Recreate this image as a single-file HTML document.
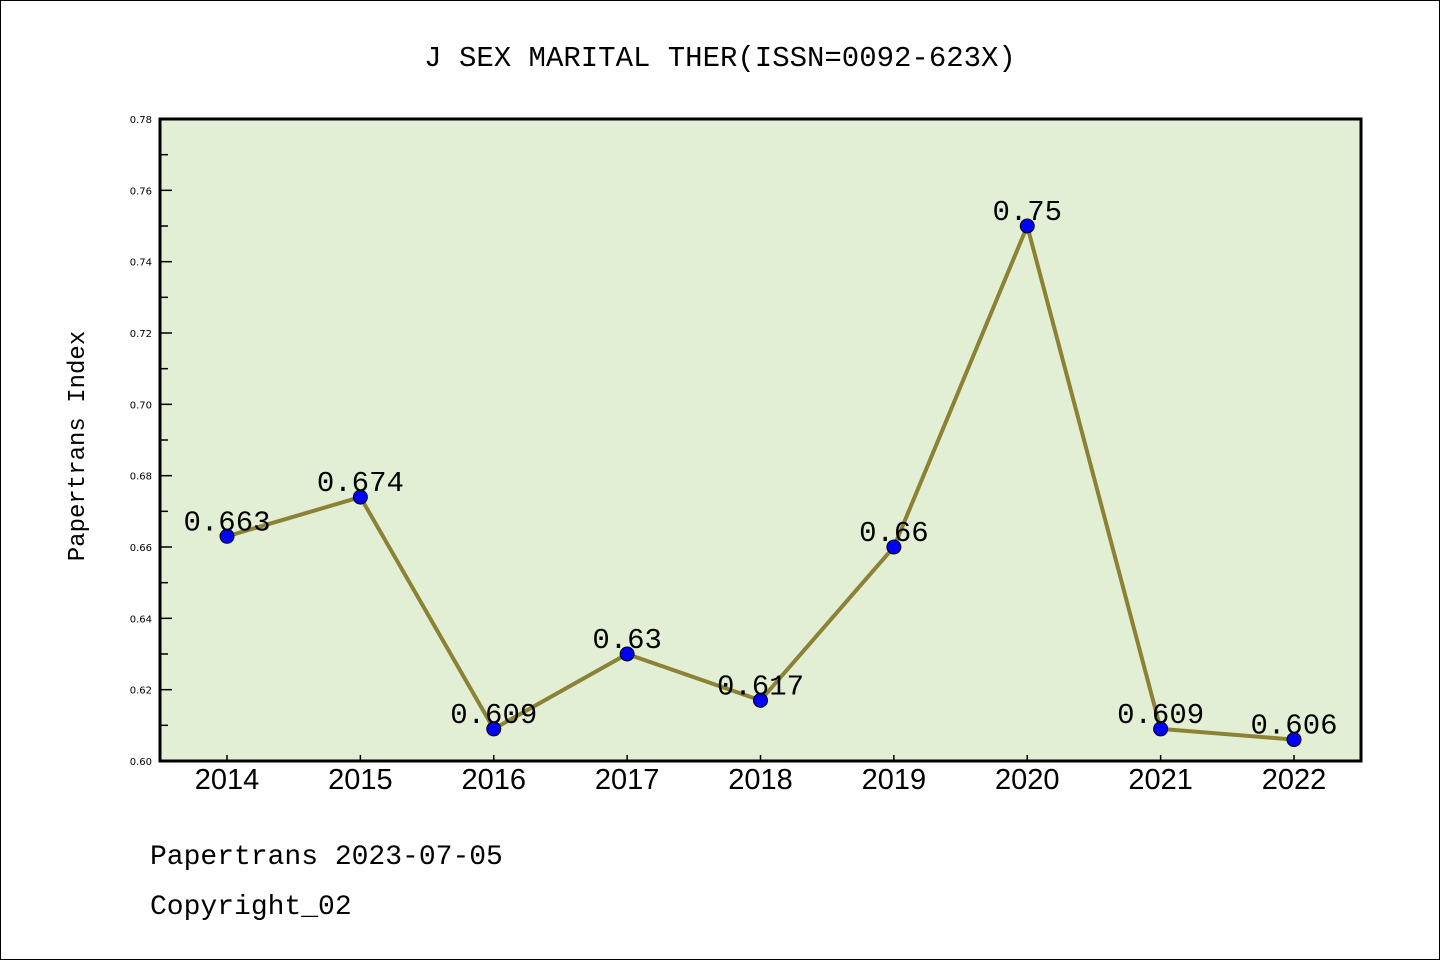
<!DOCTYPE html>
<html><head><meta charset="utf-8"><style>
html,body{margin:0;padding:0;background:#fff;}
svg{display:block;}
.mono{font-family:"WenQuanYi Zen Hei Mono","WenQuanYi Zen Hei","Liberation Mono",monospace;}
</style></head><body>
<svg id="chart" width="1440" height="960" xmlns="http://www.w3.org/2000/svg">
<rect x="0.5" y="0.5" width="1439" height="959" fill="#fff" stroke="#000" stroke-width="1"/>
<text class="mono" x="720" y="66" font-size="29" text-anchor="middle">J SEX MARITAL THER(ISSN=0092-623X)</text>
<rect x="160" y="119" width="1201" height="642" fill="#e2efd4"/>
<g id="axes"></g>
<g id="series"></g>
<rect x="160" y="119" width="1201" height="642" fill="none" stroke="#000" stroke-width="3"/>
<text class="mono" transform="translate(84,446) rotate(-90)" font-size="24" text-anchor="middle">Papertrans Index</text>
<text class="mono" x="150" y="864" font-size="28">Papertrans 2023-07-05</text>
<text class="mono" x="150" y="914" font-size="28">Copyright_02</text>
</svg>
<script>
const categories = ["2014","2015","2016","2017","2018","2019","2020","2021","2022"];
const values = [0.663,0.674,0.609,0.63,0.617,0.66,0.75,0.609,0.606];
const valueLabels = ["0.663","0.674","0.609","0.63","0.617","0.66","0.75","0.609","0.606"];
const yTicks = [0.60,0.62,0.64,0.66,0.68,0.70,0.72,0.74,0.76,0.78];
const yTickLabels = ["0.60","0.62","0.64","0.66","0.68","0.70","0.72","0.74","0.76","0.78"];

const NS="http://www.w3.org/2000/svg";
const L=160,R=1361,T=119,B=761,yMin=0.60,yMax=0.78;
const x0=227,x1=1294;
function xs(i){return x0+(x1-x0)*i/(categories.length-1);}
function ys(v){return B-(v-yMin)/(yMax-yMin)*(B-T);}
function mk(tag,attrs,parent){const e=document.createElementNS(NS,tag);for(const k in attrs)e.setAttribute(k,attrs[k]);parent.appendChild(e);return e;}
const axes=document.getElementById('axes'), series=document.getElementById('series');
yTicks.forEach((v,i)=>{
  const y=ys(v);
  const t=mk('line',{x1:L,x2:L+12,y1:y,y2:y,stroke:'#000','stroke-width':1.5},axes);
  
  
  const lb=mk('text',{x:152,y:y+4,'font-size':10,'text-anchor':'end','font-family':'DejaVu Sans, sans-serif'},axes);
  lb.textContent=yTickLabels[i];
  
  
  if(i<yTicks.length-1){
    const ym=ys(v+(yMax-yMin)/(yTicks.length-1)/2);
    const m=mk('line',{x1:L,x2:L+8,y1:ym,y2:ym,stroke:'#000','stroke-width':1.5},axes);
    
    
  }
});
categories.forEach((c,i)=>{
  const x=xs(i);
  const t=mk('line',{x1:x,x2:x,y1:B,y2:B-6,stroke:'#000','stroke-width':1.5},axes);
  
  
  const lb=mk('text',{x:x,y:789,'font-size':29,'text-anchor':'middle','font-family':'Liberation Sans, sans-serif'},axes);
  lb.textContent=c;
  
  
});
const pts=values.map((v,i)=>xs(i)+','+ys(v)).join(' ');
const line=mk('polyline',{points:pts,fill:'none',stroke:'#8c8235','stroke-width':4,'stroke-linejoin':'round'},series);


values.forEach((v,i)=>{
  const c=mk('circle',{cx:xs(i),cy:ys(v),r:7,fill:'#0000ff',stroke:'#000','stroke-width':1},series);
  
  
  const t=mk('text',{x:xs(i),y:ys(v)-6,'font-size':29,'text-anchor':'middle','class':'mono'},series);
  t.textContent=valueLabels[i];
  
  
});
</script>
</body></html>
